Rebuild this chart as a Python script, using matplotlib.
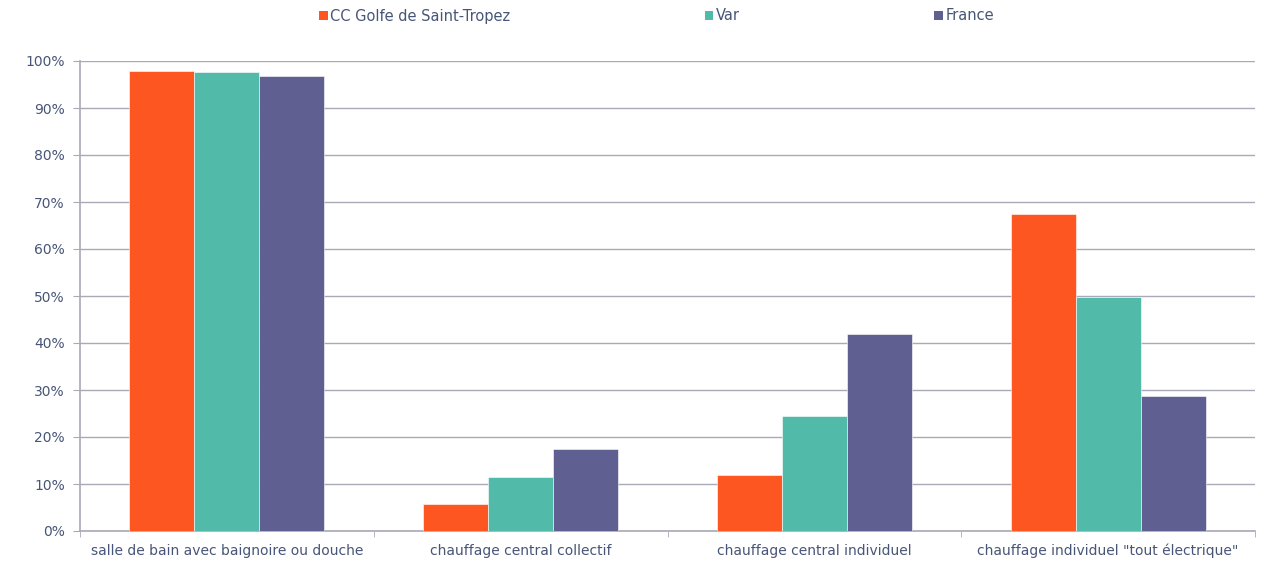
import matplotlib
matplotlib.use("Agg")
import matplotlib.pyplot as plt
from matplotlib.patches import Patch
from matplotlib.ticker import FuncFormatter, FixedLocator
import numpy as np

categories = ["salle de bain avec baignoire ou douche", "chauffage central collectif",
              "chauffage central individuel", "chauffage individuel \"tout électrique\""]
series_names = ["CC Golfe de Saint-Tropez", "Var", "France"]
golfe = [97.9, 5.8, 11.9, 67.4]
var = [97.7, 11.5, 24.5, 49.8]
france = [96.8, 17.4, 41.9, 28.7]
colors = ["#FE5620", "#52BAA8", "#605F92"]

text_color = "#475577"
grid_color = "#A9A9B8"

fig = plt.figure(figsize=(12.75, 5.62), dpi=100)
ax = fig.add_axes([80/1275, 1-531/562, (1255-80)/1275, (531-61)/562])

x = np.arange(len(categories))
w = 0.221
for i, (vals, c) in enumerate(zip([golfe, var, france], colors)):
    ax.bar(x + (i-1)*w, vals, width=w, color=c, edgecolor="white", linewidth=0.4, zorder=3)

ax.set_xlim(-0.5, len(categories)-0.5)
ax.set_ylim(0, 100)
ax.set_yticks(np.arange(0, 101, 10))
ax.yaxis.set_major_formatter(FuncFormatter(lambda v, p: f"{int(v)}%"))
ax.grid(axis="y", color=grid_color, linewidth=1, zorder=0)
ax.set_axisbelow(True)

ax.set_xticks(x)
ax.set_xticklabels(categories)
ax.xaxis.set_minor_locator(FixedLocator(np.arange(-0.5, len(categories), 1)))
ax.tick_params(axis="x", which="major", length=0, pad=9, labelsize=10, labelcolor=text_color)
ax.tick_params(axis="x", which="minor", length=4, color=grid_color, direction="out")
ax.tick_params(axis="y", length=5, color=grid_color, labelsize=10, labelcolor=text_color, pad=6)

for s in ["top", "right"]:
    ax.spines[s].set_visible(False)
ax.spines["left"].set_color(grid_color)
ax.spines["bottom"].set_color(grid_color)
ax.spines["left"].set_linewidth(1.2)
ax.spines["bottom"].set_linewidth(1.2)

handles = [Patch(facecolor=c, edgecolor="none") for c in colors]
leg = fig.legend(handles, series_names, loc="center", bbox_to_anchor=(0.515, 1-16/562),
                 ncol=3, frameon=False, handlelength=0.6, handleheight=0.6,
                 handletextpad=0.2, columnspacing=13.3, fontsize=10.5)
for t in leg.get_texts():
    t.set_color(text_color)

fig.savefig("out.png", dpi=100)
